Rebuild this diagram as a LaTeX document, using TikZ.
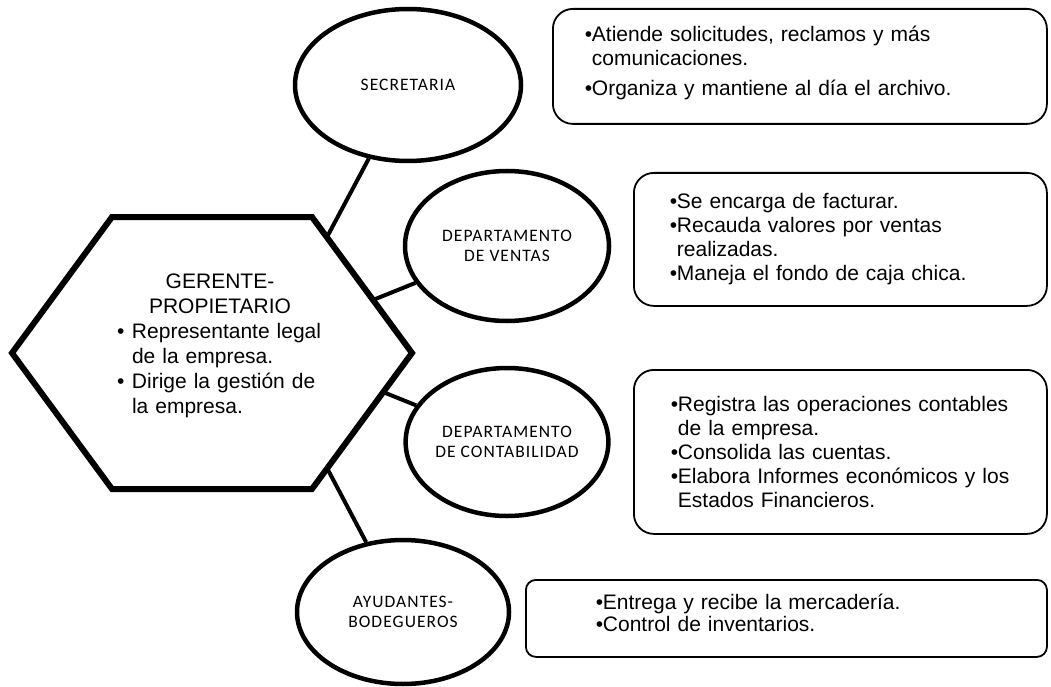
\documentclass[tikz,border=0pt]{standalone}
\usepackage{fontspec}
\setmainfont{Liberation Sans}
\newfontfamily\calib[LetterSpace=6]{Carlito}
\usetikzlibrary{shapes.geometric}

\newcommand{\ibul}[1]{\mbox{\makebox[7pt][l]{\textbullet}#1}}
\newcommand{\icont}[1]{\mbox{\hspace{7pt}#1}}
\newcommand{\gbul}[1]{\makebox[206pt][l]{\makebox[15pt][l]{\textbullet}#1}}
\newcommand{\gcont}[1]{\makebox[206pt][l]{\hspace{15pt}#1}}

\begin{document}
\begin{tikzpicture}[x=1pt,y=-1pt,
  area/.style={draw,line width=4.5pt,ellipse,inner sep=0pt,align=center,font=\calib\fontsize{17.5}{20}\selectfont},
  tarea/.style={draw,line width=1.8pt,rounded corners=20pt,anchor=north west,align=left,font=\fontsize{21}{24}\selectfont},
  enlace/.style={line width=4pt}]
\useasboundingbox (0,0) rectangle (1051,687);

% gerente
\draw[line width=6pt] (12,353) -- (112,217) -- (312,217) -- (412,353) -- (312,489) -- (112,489) -- cycle;
\node[align=center,text width=206pt,inner sep=0pt,font=\fontsize{21}{25}\selectfont] (G) at (220,346)
  {GERENTE-\\PROPIETARIO\\\gbul{Representante legal}\\\gcont{de la empresa.}\\\gbul{Dirige la gestión de}\\\gcont{la empresa.}};
\coordinate (h1) at (327,237);
\coordinate (h2) at (373,300);
\coordinate (h3) at (383,392);
\coordinate (h4) at (327,468);

% areas
\node[area,minimum width=226pt,minimum height=152pt] (SEC) at (408,85) {SECRETARIA};
\node[area,minimum width=204pt,minimum height=150pt] (VEN) at (507,246) {DEPARTAMENTO\\DE VENTAS};
\node[area,minimum width=202pt,minimum height=148pt] (CON) at (507,442) {DEPARTAMENTO\\DE CONTABILIDAD};
\node[area,minimum width=212pt,minimum height=144pt] (AYU) at (403,612) {AYUDANTES-\\BODEGUEROS};

\draw[enlace] (h1) -- (SEC);
\draw[enlace] (h2) -- (VEN);
\draw[enlace] (h3) -- (CON);
\draw[enlace] (h4) -- (AYU);

% funciones
\node[tarea,inner xsep=32pt,text width=430pt,minimum height=115pt] (F1) at (552,8)
  {\ibul{Atiende solicitudes, reclamos y más}\\\icont{comunicaciones.}\\[6pt]\ibul{Organiza y mantiene al día el archivo.}\rule[-12pt]{0pt}{0pt}};
\node[tarea,inner xsep=36pt,text width=341pt,minimum height=133pt] (F2) at (633,172)
  {\ibul{Se encarga de facturar.}\\\ibul{Recauda valores por ventas}\\\icont{realizadas.}\\\ibul{Maneja el fondo de caja chica.}};
\node[tarea,inner xsep=37pt,text width=339pt,minimum height=164pt] (F3) at (633,369)
  {\ibul{Registra las operaciones contables}\\\icont{de la empresa.}\\\ibul{Consolida las cuentas.}\\\ibul{Elabora Informes económicos y los}\\\icont{Estados Financieros.}};
\node[tarea,rounded corners=10pt,inner xsep=70pt,text width=381pt,minimum height=77pt] (F4) at (525,579)
  {\ibul{Entrega y recibe la mercadería.}\\[-2pt]\ibul{Control de inventarios.}\rule[-12pt]{0pt}{0pt}};
\end{tikzpicture}
\end{document}
